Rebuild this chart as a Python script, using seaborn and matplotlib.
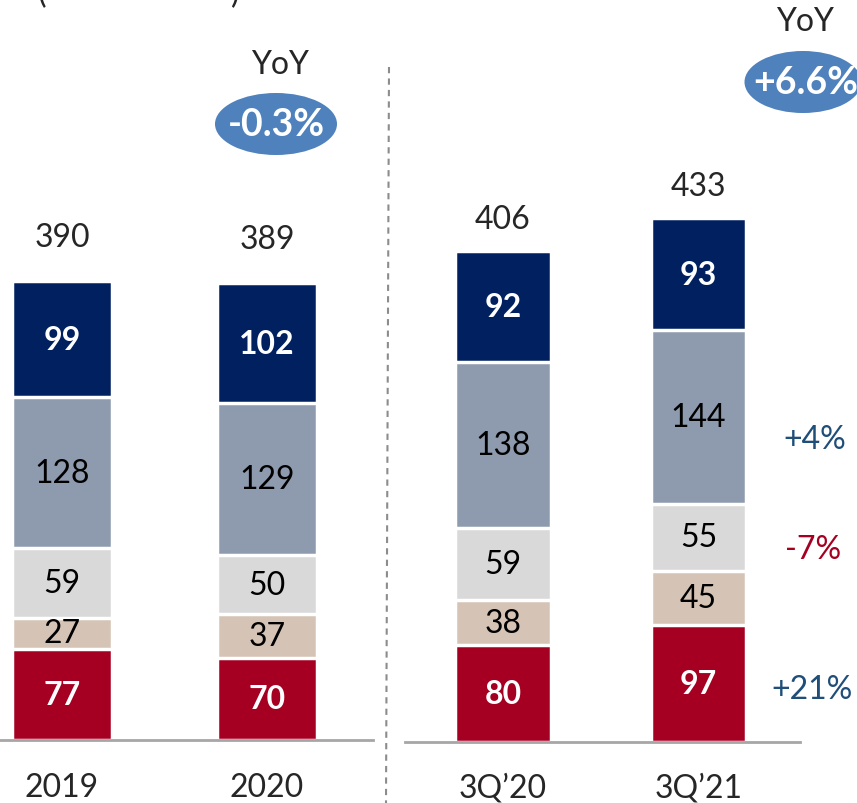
import pandas as pd
import seaborn as sns
import matplotlib.pyplot as plt
from matplotlib.patches import Ellipse

sns.set_style("white")
plt.rcParams['font.family'] = ['Lato', 'DejaVu Sans']

# data (bottom segment first)
annual = ["2019", "2020"]
quarters = ["3Q’20", "3Q’21"]
red_vals = [77, 70, 80, 97]
tan_vals = [27, 37, 38, 45]
light_vals = [59, 50, 59, 55]
slate_vals = [128, 129, 138, 144]
navy_vals = [99, 102, 92, 93]
totals = [390, 389, 406, 433]
yoy = ["-0.3%", "+6.6%"]
seg_yoy = ["+21%", "-7%", "+4%"]   # red, light gray, slate

layers = [red_vals, tan_vals, light_vals, slate_vals, navy_vals]
colors = ["#A50021", "#D5C4B5", "#D9D9D9", "#8E9BAE", "#002060"]
white_txt = [True, False, False, False, True]

fig = plt.figure(figsize=(8.57, 8.04), dpi=100)
W, H = 857, 804


def draw_group(ax, labels, idx, pad, tot_off):
    df = pd.DataFrame({"period": labels})
    cums = []
    run = [0] * len(idx)
    for vals in layers:
        run = [r + vals[i] for r, i in zip(run, idx)]
        cums.append(run)
    # draw tallest first so lower layers sit on top
    for cum, c in reversed(list(zip(cums, colors))):
        df["v"] = cum
        sns.barplot(data=df, x="period", y="v", color=c, saturation=1,
                    width=0.49, edgecolor="white", linewidth=2.5, ax=ax)
    for j, i in enumerate(idx):
        bottom = 0
        for vals, wt in zip(layers, white_txt):
            v = vals[i]
            ax.text(j, bottom + v / 2, str(v), ha="center", va="center",
                    fontsize=23, color="white" if wt else "black",
                    fontweight="bold" if wt else "normal")
            bottom += v
        ax.annotate(str(totals[i]), (j, bottom), xytext=(0, tot_off),
                    textcoords="offset points", ha="center", va="bottom",
                    fontsize=23)
    ax.set_yticks([])
    ax.set_xlabel("")
    ax.set_ylabel("")
    for s in ["left", "top", "right"]:
        ax.spines[s].set_visible(False)
    ax.spines["bottom"].set_color("#A6A6A6")
    ax.spines["bottom"].set_linewidth(2)
    ax.tick_params(axis="x", length=0, labelsize=23, pad=pad)


ax1 = fig.add_axes([0 / W, (H - 741) / H, 373 / W, 741 / H])
draw_group(ax1, annual, [0, 1], 23, 21)
ax1.set_xlim(-0.302, 1.517)
ax1.set_ylim(0, 741 / 1.177)

ax2 = fig.add_axes([405 / W, (H - 743) / H, 395 / W, 743 / H])
draw_group(ax2, quarters, [2, 3], 22, 12)
ax2.set_xlim(-0.501, 1.519)
ax2.set_ylim(0, 743 / 1.207)

# overlay for annotations
ov = fig.add_axes([0, 0, 1, 1], zorder=10)
ov.set_xlim(0, W)
ov.set_ylim(H, 0)
ov.axis("off")
ov.patch.set_alpha(0)

ov.plot([389, 386], [68, 804], ls=(0, (3, 2.5)), color="#8C8C8C", lw=1.5)

ov.text(38, 3, "(", fontsize=23, ha="left", va="baseline")
ov.text(240, 3, ")", fontsize=23, ha="right", va="baseline")

ov.text(280, 65, "YoY", fontsize=23, ha="center", va="center")
ov.add_patch(Ellipse((276, 125), 122, 62, fc="#4F81BD", ec="none"))
ov.text(276, 125, yoy[0], fontsize=27, fontweight="bold", color="white",
        ha="center", va="center")

ov.text(805, 22, "YoY", fontsize=23, ha="center", va="center")
ov.add_patch(Ellipse((803, 83), 117, 62, fc="#4F81BD", ec="none"))
ov.text(806, 83, yoy[1], fontsize=27, fontweight="bold", color="white",
        ha="center", va="center")

ov.text(815, 440, seg_yoy[2], fontsize=23, color="#1F4E79", ha="center", va="center")
ov.text(813, 550, seg_yoy[1], fontsize=23, color="#A50021", ha="center", va="center")
ov.text(812, 690, seg_yoy[0], fontsize=23, color="#1F4E79", ha="center", va="center")

fig.savefig("out.png", dpi=100)
